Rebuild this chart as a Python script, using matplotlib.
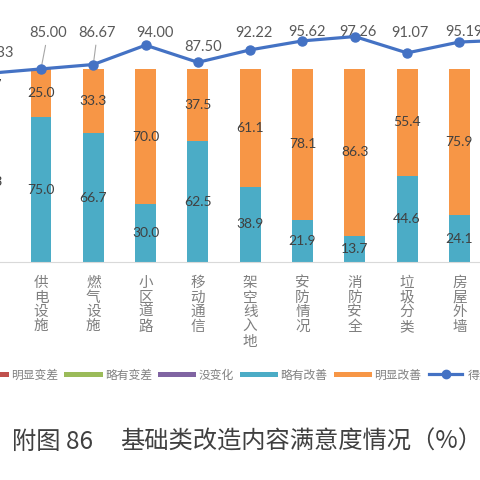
import matplotlib.pyplot as plt
from matplotlib.lines import Line2D

# categories (first and last are cut off at the picture edges)
categories = ['', '供电设施', '燃气设施', '小区道路', '移动通信', '架空线入地',
              '安防情况', '消防安全', '垃圾分类', '房屋外墙', '']
slight = [83.3, 75.0, 66.7, 30.0, 62.5, 38.9, 21.9, 13.7, 44.6, 24.1, 20.0]
obvious = [16.7, 25.0, 33.3, 70.0, 37.5, 61.1, 78.1, 86.3, 55.4, 75.9, 80.0]
score = [83.33, 85.00, 86.67, 94.00, 87.50, 92.22, 95.62, 97.26, 91.07, 95.19, 96.00]

legend_labels = ['明显变差', '略有变差', '没变化', '略有改善', '明显改善', '得分']

# label offsets (points) for the score labels, label centre relative to point
lab_dx = [4.5, 5, 3, 7, 4, 2.5, 3, 2, 2, 3, 0]
lab_dy = [15, 26, 23, 9, 11, 12, 6.5, 3, 14.5, 7, 8]

C_SLIGHT = '#4BACC6'
C_OBV = '#F79646'
C_LINE = '#4472C4'

def main():
    fig = plt.figure(figsize=(4.8, 4.8), dpi=100)
    ax = fig.add_axes([0, 1 - 262 / 480, 1, 262 / 480])
    x = list(range(len(categories)))

    ax.bar(x, slight, width=0.40, color=C_SLIGHT, zorder=2)
    ax.bar(x, obvious, width=0.40, bottom=slight, color=C_OBV, zorder=2)
    for i in x:
        ax.text(i, slight[i] / 2, f'{slight[i]:.1f}', ha='center', va='center',
                family='Lato', fontsize=10, color='#404040', zorder=3)
        ax.text(i, slight[i] + obvious[i] / 2, f'{obvious[i]:.1f}', ha='center',
                va='center', family='Lato', fontsize=10, color='#404040', zorder=3)

    ax.set_yticks([])
    ax.set_xticks(x)
    ax.set_xticklabels(['\n'.join(c) for c in categories], family='Noto Sans CJK SC',
                       fontsize=10.5, color='#7f7f7f', linespacing=1.06)
    ax.tick_params(axis='x', length=0, pad=10)
    for s in ['top', 'left', 'right']:
        ax.spines[s].set_visible(False)
    ax.spines['bottom'].set_color('#d9d9d9')
    ax.patch.set_alpha(0)

    ax2 = ax.twinx()
    ax2.plot(x, score, color=C_LINE, lw=2.3, marker='o', ms=6.5, zorder=4, clip_on=False)
    ax2.set_yticks([])
    for s in ax2.spines.values():
        s.set_visible(False)
    for i in x:
        leader = dict(arrowstyle='-', color='#a6a6a6', lw=0.8, shrinkA=2, shrinkB=3) if i in (0, 1, 2) else None
        ax2.annotate(f'{score[i]:.2f}', (i, score[i]), xytext=(lab_dx[i], lab_dy[i]),
                     textcoords='offset points', ha='center', va='center',
                     family='Lato', fontsize=10.5, color='#595959',
                     arrowprops=leader, annotation_clip=False)

    ax.set_xlim(0.216, 9.394)
    ax.set_ylim(0, 135.75)
    ax2.set_ylim(11.9, 111.1)

    handles = [Line2D([], [], color='#C0504D', lw=3.6),
               Line2D([], [], color='#9BBB59', lw=3.6),
               Line2D([], [], color='#8064A2', lw=3.6),
               Line2D([], [], color=C_SLIGHT, lw=3.6),
               Line2D([], [], color=C_OBV, lw=3.6),
               Line2D([], [], color=C_LINE, lw=2.3, marker='o', ms=6)]
    fig.legend(handles, legend_labels, loc='center', bbox_to_anchor=(232 / 480, 1 - 375 / 480),
               ncol=6, frameon=False, handlelength=2.8, handletextpad=0.45,
               columnspacing=0.7, prop={'family': 'Noto Sans CJK SC', 'size': 8.5},
               labelcolor='#808080')

    fig.text(12 / 480, 1 - 442 / 480, '附图 86', ha='left', va='center',
             family='Noto Sans CJK SC', fontsize=17.5, color='#404040')
    fig.text(120 / 480, 1 - 442 / 480, '基础类改造内容满意度情况（%）', ha='left', va='center',
             family='Noto Sans CJK SC', fontsize=17.5, color='#404040')

    fig.savefig('out.png', dpi=100)

if __name__ == '__main__':
    main()
